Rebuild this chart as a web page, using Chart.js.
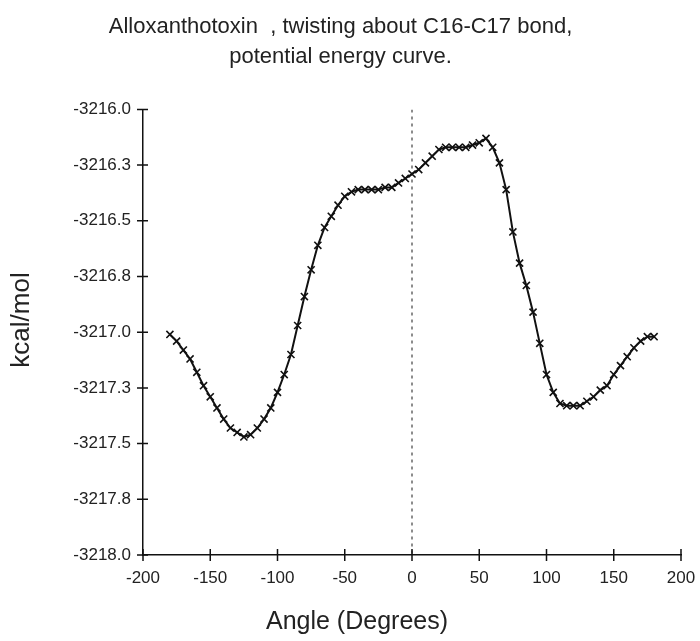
<!DOCTYPE html>
<html>
<head>
<meta charset="utf-8">
<script src="https://cdn.jsdelivr.net/npm/chart.js@4.4.1/dist/chart.umd.min.js"></script>
<style>
html,body{margin:0;padding:0;background:#fff;}
#wrap{width:700px;height:641px;position:relative;}
</style>
</head>
<body>
<div id="wrap"><canvas id="c" width="700" height="641"></canvas></div>
<script>
// Data
const angles = [-180,-175,-170,-165,-160,-155,-150,-145,-140,-135,-130,-125,-120,-115,-110,-105,-100,-95,-90,-85,-80,-75,-70,-65,-60,-55,-50,-45,-40,-35,-30,-25,-20,-15,-10,-5,0,5,10,15,20,25,30,35,40,45,50,55,60,65,70,75,80,85,90,95,100,105,110,115,120,125,130,135,140,145,150,155,160,165,170,175,180];
const energies = [-3217.01,-3217.04,-3217.08,-3217.12,-3217.18,-3217.24,-3217.29,-3217.34,-3217.39,-3217.43,-3217.45,-3217.47,-3217.46,-3217.43,-3217.39,-3217.34,-3217.27,-3217.19,-3217.10,-3216.97,-3216.84,-3216.72,-3216.61,-3216.53,-3216.48,-3216.43,-3216.39,-3216.37,-3216.36,-3216.36,-3216.36,-3216.36,-3216.35,-3216.35,-3216.33,-3216.31,-3216.29,-3216.27,-3216.24,-3216.21,-3216.18,-3216.17,-3216.17,-3216.17,-3216.17,-3216.16,-3216.15,-3216.13,-3216.17,-3216.24,-3216.36,-3216.55,-3216.69,-3216.79,-3216.91,-3217.05,-3217.19,-3217.27,-3217.32,-3217.33,-3217.33,-3217.33,-3217.31,-3217.29,-3217.26,-3217.24,-3217.19,-3217.15,-3217.11,-3217.07,-3217.04,-3217.02,-3217.02];
const xTickValues = [-200,-150,-100,-50,0,50,100,150,200];
const xTickLabels = ['-200','-150','-100','-50','0','50','100','150','200'];
const yTickValues = [-3216.0,-3216.25,-3216.5,-3216.75,-3217.0,-3217.25,-3217.5,-3217.75,-3218.0];
const yTickLabels = ['-3216.0','-3216.3','-3216.5','-3216.8','-3217.0','-3217.3','-3217.5','-3217.8','-3218.0'];
const zeroLineX = [0,0];
const zeroLineY = [-3216.0,-3218.0];
const titleLines = ['Alloxanthotoxin  , twisting about C16-C17 bond,','potential energy curve.'];
const xTitle = 'Angle (Degrees)';
const yTitle = 'kcal/mol';

const FONT = '"Liberation Sans", Arial, sans-serif';

const crossTicks = {
  id:'crossTicks',
  afterDraw(chart){
    const ctx = chart.ctx, xs = chart.scales.x, ys = chart.scales.y;
    const ax = xs.left, ay = ys.bottom;
    ctx.save();
    ctx.strokeStyle = '#111';
    ctx.lineWidth = 1.5;
    ctx.beginPath();
    yTickValues.forEach(v=>{
      const p = ys.getPixelForValue(v);
      ctx.moveTo(ax-6,p); ctx.lineTo(ax+5,p);
    });
    xTickValues.forEach(v=>{
      const p = xs.getPixelForValue(v);
      ctx.moveTo(p,ay-6); ctx.lineTo(p,ay+6);
    });
    ctx.stroke();
    // axis titles
    ctx.fillStyle = '#222';
    ctx.textAlign = 'center';
    ctx.textBaseline = 'middle';
    ctx.font = '25px ' + FONT;
    ctx.fillText(xTitle, 357, 622);
    ctx.translate(22, 320);
    ctx.rotate(-Math.PI/2);
    ctx.font = '26px ' + FONT;
    ctx.fillText(yTitle, 0, 0);
    ctx.restore();
  }
};

new Chart(document.getElementById('c'), {
  type:'scatter',
  data:{
    datasets:[
      {
        data: angles.map((a,i)=>({x:a,y:energies[i]})),
        showLine:true,
        borderColor:'#111',
        borderWidth:2,
        pointStyle:'crossRot',
        pointRadius:5,
        pointBorderWidth:1.6,
        pointBorderColor:'#111',
        pointBackgroundColor:'#111',
        tension:0
      },
      {
        data: zeroLineX.map((a,i)=>({x:a,y:zeroLineY[i]})),
        showLine:true,
        borderColor:'#666',
        borderWidth:1.5,
        borderDash:[3,4],
        pointRadius:0
      }
    ]
  },
  options:{
    responsive:false,
    animation:false,
    layout:{padding:{left:0,right:19,top:0,bottom:0}},
    plugins:{
      legend:{display:false},
      tooltip:{enabled:false},
      title:{
        display:true,
        text:titleLines,
        color:'#222',
        font:{family:FONT,size:22,weight:'normal',lineHeight:1.35},
        padding:{top:12,bottom:38}
      }
    },
    scales:{
      x:{
        type:'linear',
        min:-200,max:200,
        afterBuildTicks(s){ s.ticks = xTickValues.map(v=>({value:v})); },
        afterFit(s){ s.height = 86; s.paddingLeft = 0; s.paddingRight = 0; },
        grid:{display:false,drawTicks:false},
        border:{display:true,color:'#111',width:1.5},
        ticks:{
          padding:13,
          color:'#222',
          font:{family:FONT,size:17},
          maxRotation:0,
          callback:(v,i)=>xTickLabels[i]
        },
        title:{display:false}
      },
      y:{
        type:'linear',
        min:-3218,max:-3216,
        afterBuildTicks(s){ s.ticks = yTickValues.map(v=>({value:v})); },
        afterFit(s){ s.width = 143; s.paddingTop = 0; s.paddingBottom = 0; },
        grid:{display:false,drawTicks:false},
        border:{display:true,color:'#111',width:1.5},
        ticks:{
          padding:12,
          color:'#222',
          font:{family:FONT,size:17},
          callback:(v,i)=>yTickLabels[i]
        },
        title:{display:false}
      }
    }
  },
  plugins:[crossTicks]
});
</script>
</body>
</html>
